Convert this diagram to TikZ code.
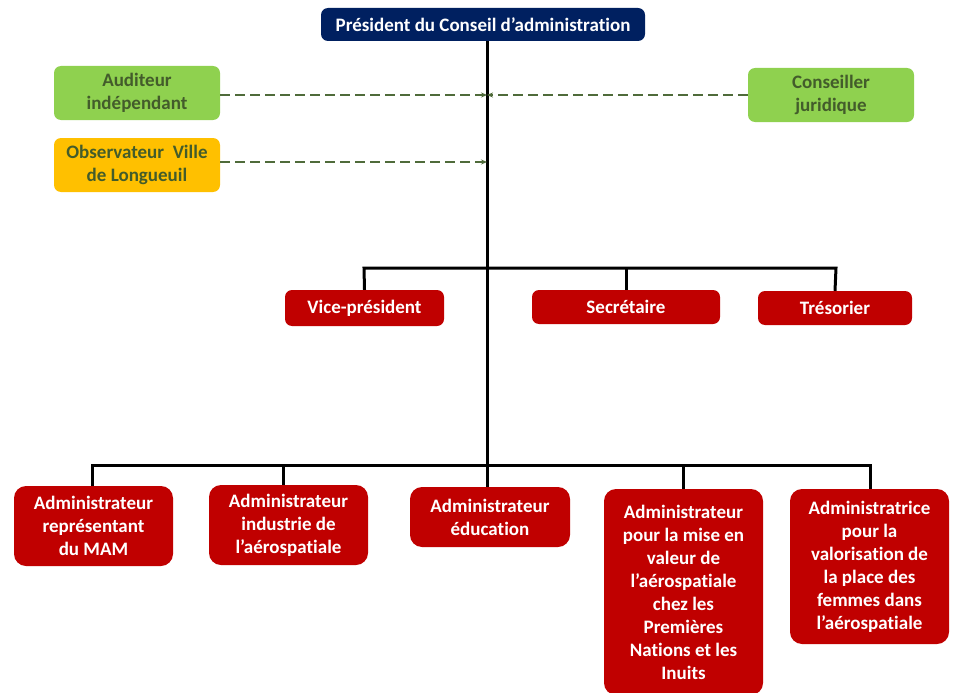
\documentclass[tikz,border=0pt]{standalone}
\usepackage{fontspec}
\setmainfont{Carlito}[Ligatures={NoCommon}]
\usetikzlibrary{arrows.meta}
\definecolor{navy}{HTML}{002060}
\definecolor{redbox}{HTML}{C00000}
\definecolor{greenbox}{HTML}{8FD14F}
\definecolor{orangebox}{HTML}{FFC000}
\definecolor{olivetext}{HTML}{435C2B}
\definecolor{dashcol}{HTML}{4F6B3A}
\begin{document}
\begin{tikzpicture}[x=1pt,y=-1pt,
  box/.style={rounded corners=7pt, inner sep=0pt, align=center,
    font=\fontsize{19}{23}\selectfont\bfseries},
  topbox/.style={box, fill=navy, text=white},
  sidebox/.style={box, text=olivetext},
  redb/.style={box, fill=redbox, text=white},
  bigred/.style={redb, rounded corners=12pt},
  link/.style={line width=3pt, black},
  dashlink/.style={line width=2.2pt, dashcol, dash pattern=on 10pt off 5pt, -{Stealth[length=6pt,width=5pt]}}
]
\useasboundingbox (0,0) rectangle (956,693);

\node[topbox, minimum width=324pt, minimum height=33pt] (pres) at (483,24.5) {Président du Conseil d’administration};

\node[sidebox, fill=greenbox, minimum width=166pt, minimum height=54pt] (aud) at (137,93) {Auditeur\\indépendant};
\node[sidebox, fill=greenbox, minimum width=166pt, minimum height=54pt] (cons) at (831,95) {Conseiller\\juridique};
\node[sidebox, fill=orangebox, minimum width=166pt, minimum height=54pt] (obs) at (137,165) {Observateur\ \ Ville\\de Longueuil};

\coordinate (bus1) at (487,268);
\coordinate (bus2) at (487,465);
\coordinate (ja) at (487,95);
\coordinate (jo) at (487,162);
\coordinate (x2) at (283,465);

\draw[link] (pres.south -| bus1) -- (bus2);

\draw[dashlink] (aud.east |- ja) -- (ja);
\draw[dashlink] (cons.west |- ja) -- (ja);
\draw[dashlink] (obs.east |- jo) -- (jo);

\node[redb, minimum width=159pt, minimum height=36pt] (vp) at (364.5,308) {Vice-président};
\node[redb, minimum width=188pt, minimum height=34pt] (sec) at (626,307) {Secrétaire};
\node[redb, minimum width=154pt, minimum height=34pt] (tres) at (835,308) {Trésorier};

\coordinate (b1l) at (364,268);
\coordinate (b1r) at (836,268);
\draw[link] (vp.north) -- (b1l) -- (b1r) -- (tres.north);
\draw[link] (sec.north) -- (sec.north |- b1l);

\node[bigred, minimum width=159pt, minimum height=80pt] (a1) at (93.5,526) {Administrateur\\représentant\\du MAM};
\node[bigred, minimum width=159pt, minimum height=80pt] (a2) at (288.5,525) {Administrateur\\industrie de\\l’aérospatiale};
\node[bigred, minimum width=160pt, minimum height=60pt] (a3) at (490,517) {Administrateur\\éducation};
\node[bigred, minimum width=159pt, minimum height=206pt] (a4) at (683.5,592) {Administrateur\\pour la mise en\\valeur de\\l’aérospatiale\\chez les\\Premières\\Nations et les\\Inuits};
\node[bigred, minimum width=159pt, minimum height=155pt] (a5) at (869.5,566.5) {Administratrice\\pour la\\valorisation de\\la place des\\femmes dans\\l’aérospatiale};

\coordinate (b2l) at (92,465);
\coordinate (b2r) at (870,465);
\draw[link] (a1.north -| b2l) -- (b2l) -- (b2r) -- (a5.north -| b2r);
\draw[link] (a2.north -| x2) -- (x2);
\draw[link] (a3.north -| bus2) -- (bus2);
\draw[link] (a4.north) -- (a4.north |- bus2);
\end{tikzpicture}
\end{document}
